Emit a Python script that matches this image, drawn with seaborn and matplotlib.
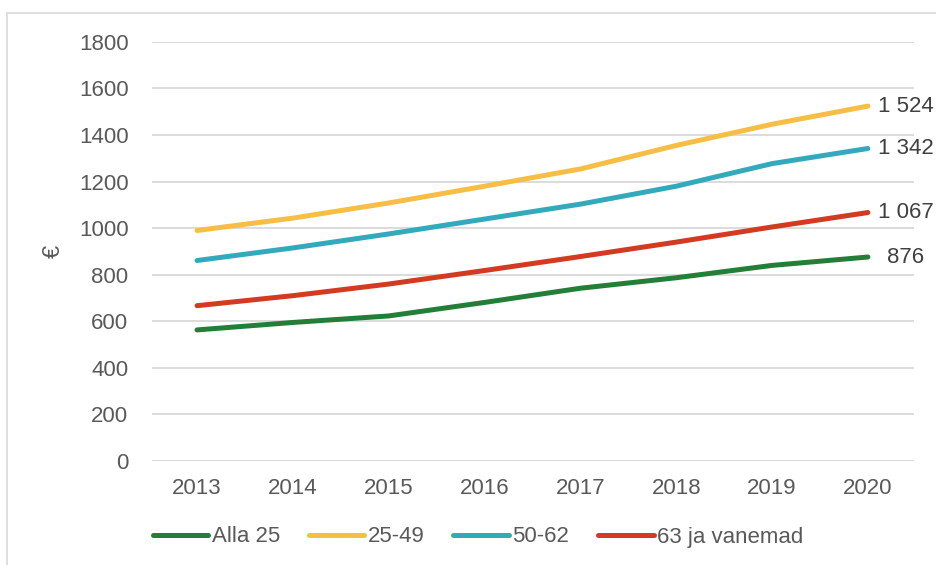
import pandas as pd
import matplotlib.pyplot as plt
import seaborn as sns
from matplotlib.patches import Rectangle

# andmed (loetud jooniselt)
years = [2013, 2014, 2015, 2016, 2017, 2018, 2019, 2020]
groups = ["Alla 25", "25-49", "50-62", "63 ja vanemad"]
alla_25 = [563, 595, 623, 681, 742, 787, 840, 876]
vanus_25_49 = [990, 1043, 1108, 1180, 1254, 1355, 1446, 1524]
vanus_50_62 = [861, 915, 975, 1039, 1103, 1180, 1277, 1342]
vanus_63 = [667, 710, 760, 818, 878, 940, 1005, 1067]
colors = ["#237F37", "#F7BE45", "#33AABB", "#D33A22"]

df = pd.DataFrame({
    "aasta": years * 4,
    "väärtus": alla_25 + vanus_25_49 + vanus_50_62 + vanus_63,
    "grupp": [g for g in groups for _ in years],
})

sns.set_theme(style="white")
plt.rcParams["font.family"] = ["Liberation Sans", "DejaVu Sans"]

fig = plt.figure(figsize=(9.36, 5.65), dpi=100)
ax = fig.add_axes([0.1624, 0.184, 0.814, 0.742])

sns.lineplot(
    data=df, x="aasta", y="väärtus", hue="grupp",
    hue_order=groups, palette=colors,
    linewidth=3.6, solid_capstyle="round", ax=ax
)

ax.set_ylim(0, 1800)
ax.set_yticks(range(0, 1801, 200))
ax.set_xlim(2012.53, 2020.48)
ax.set_xticks(years)
ax.grid(axis="y", color="#D9D9D9", linewidth=1.3)
ax.set_axisbelow(True)
for s in ax.spines.values():
    s.set_visible(False)
ax.tick_params(axis="both", length=0, labelsize=16, labelcolor="#595959")
ax.tick_params(axis="y", pad=17)
ax.tick_params(axis="x", pad=12)
ax.set_xlabel("")
ax.set_ylabel("€", fontsize=17, color="#595959", labelpad=10)

# väärtused joonte lõpus
for vals in [alla_25, vanus_25_49, vanus_50_62, vanus_63]:
    ax.annotate(
        f"{vals[-1]:,}".replace(",", " "),
        xy=(years[-1], vals[-1]), xytext=(38, 0),
        textcoords="offset pixels", ha="center", va="center",
        fontsize=16, color="#404040", annotation_clip=False
    )

handles, labels = ax.get_legend_handles_labels()
ax.get_legend().remove()
fig.legend(
    handles, labels, loc="center", bbox_to_anchor=(478 / 936, 1 - 537 / 565),
    ncol=4, frameon=False, fontsize=16, labelcolor="#595959",
    handlelength=2.5, handletextpad=0.15, columnspacing=1.3
)

# raam ümber joonise
fig.patches.append(Rectangle(
    (7 / 936, -0.1), 1.2, 1 - 13 / 565 + 0.1, transform=fig.transFigure,
    fill=False, edgecolor="#D9D9D9", linewidth=1.2
))

plt.savefig("out.png", dpi=100)
plt.close()
